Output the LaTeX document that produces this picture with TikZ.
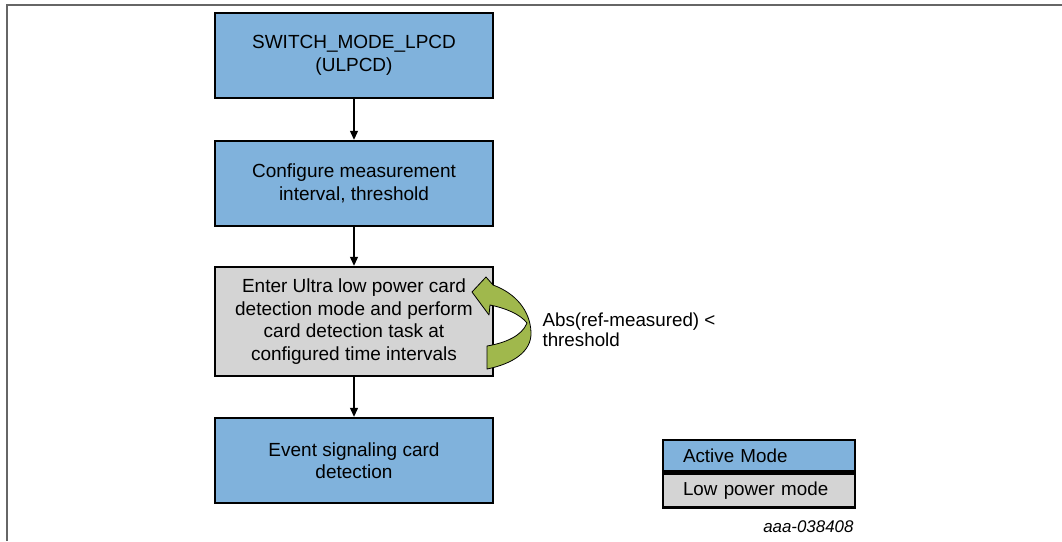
\documentclass[tikz,border=0pt]{standalone}
\usepackage{fontspec}
\setmainfont{Liberation Sans}
\usetikzlibrary{arrows.meta}
\definecolor{activeblue}{RGB}{128,178,220}
\definecolor{lowgray}{RGB}{212,212,212}
\definecolor{loopgreen}{RGB}{160,184,76}

\begin{document}
\begin{tikzpicture}[x=1pt,y=-1pt,
	box/.style={draw=black,line width=2.4pt,minimum width=278pt,align=center,
		font=\fontsize{19}{22.5}\selectfont},
	active/.style={box,fill=activeblue,minimum height=85pt},
	lowpower/.style={box,fill=lowgray,minimum height=109pt},
	legend/.style={draw=black,line width=2.4pt,text width=152pt,inner xsep=20pt,
		align=left,font=\fontsize{18.8}{22}\selectfont},
	flow/.style={-{Triangle[length=9pt,width=8pt]},line width=1.2pt}]
	\useasboundingbox (0,0) rectangle (1062,541);
	% frame
	\draw[line width=1.5pt,black!60] (7,541)--(7,5)--(1062,5);

	\node[active] (switch) at (354,55.5) {SWITCH\_MODE\_LPCD\\(ULPCD)};
	\node[active] (config) at (354,183.5) {Configure measurement\\interval, threshold};
	\node[lowpower] (ulpcd) at (354,321.5) {Enter Ultra low power card\\detection mode and perform\\card detection task at\\configured time intervals};
	\node[active] (event) at (354,460.5) {Event signaling card\\detection};

	\draw[flow] (switch)--(config);
	\draw[flow] (config)--(ulpcd);
	\draw[flow] (ulpcd)--(event);

	% loop arrow
	\draw[fill=loopgreen,line width=0.8pt,line join=round]
		(487,369) .. controls (512,364) and (532,352) .. (531,332)
		.. controls (530,310) and (515,293) .. (493,285) -- (486,277) -- (472,292)
		-- (489,315) -- (490,305) .. controls (505,308) and (520,314) .. (527,323)
		.. controls (522,336) and (505,343) .. (487,346) -- cycle;
	\node[anchor=west,align=left,font=\fontsize{18.8}{20.5}\selectfont] (cond) at (539,330) {Abs(ref-measured) <\\threshold};

	% legend
	\node[legend,fill=activeblue,minimum height=31pt] (leg1) at (759,455.5) {Active Mode};
	\node[legend,fill=lowgray,minimum height=34pt,anchor=north] (leg2) at (leg1.south) {Low power mode};
	\node[anchor=east,font=\fontsize{16.9}{19}\itshape] (ref) at (857,527) {aaa-038408};
\end{tikzpicture}
\end{document}
